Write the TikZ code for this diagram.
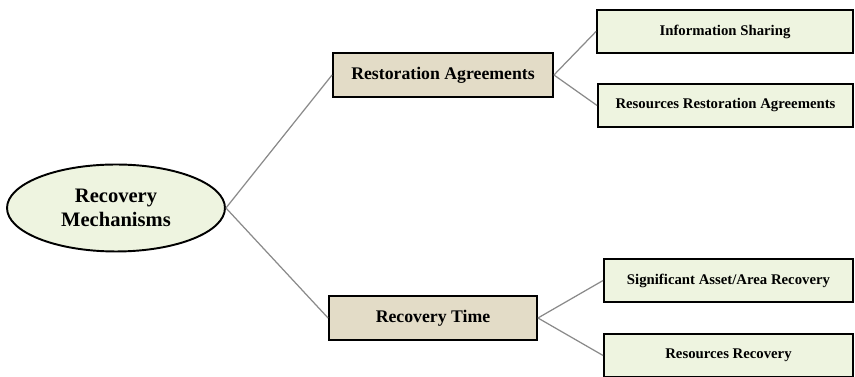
\documentclass[tikz,border=0pt]{standalone}
\usepackage{fontspec}
\setmainfont{Liberation Serif}
\usepackage{xcolor}
\usetikzlibrary{shapes.geometric, positioning}
\definecolor{leafgreen}{HTML}{EEF4E0}
\definecolor{midtan}{HTML}{E3DCC7}
\definecolor{linkgray}{HTML}{8A8A8A}
\tikzset{
    rootnode/.style={
        ellipse,
        draw=black,
        line width=1.1pt,
        minimum width=4.36cm,
        minimum height=1.74cm,
        fill=leafgreen,
        align=center,
        font=\fontsize{11.7}{13.5}\selectfont\bfseries
    },
    midbox/.style={
        rectangle,
        draw=black,
        line width=1.1pt,
        minimum height=0.88cm,
        fill=midtan,
        font=\fontsize{10.1}{12}\selectfont\bfseries
    },
    leafbox/.style={
        rectangle,
        draw=black,
        line width=1.1pt,
        minimum height=0.86cm,
        fill=leafgreen,
        font=\fontsize{8.4}{10}\selectfont\bfseries
    },
    link/.style={
        draw=linkgray,
        line width=0.7pt
    }
}
\begin{document}
\begin{tikzpicture}[x=0.02cm, y=-0.02cm]
\useasboundingbox (0,0) rectangle (855,377);

% Root
\node[rootnode] (recmech) at (116,208) {Recovery\\Mechanisms};

% Second level
\node[midbox, minimum width=4.4cm] (restagr) at (443,75) {Restoration Agreements};
\node[midbox, minimum width=4.16cm] (rectime) at (433,318) {Recovery Time};

% Leaves
\node[leafbox, minimum width=5.12cm] (infoshare) at (725,31.5) {Information Sharing};
\node[leafbox, minimum width=5.1cm] (resrestagr) at (725.5,105.5) {Resources Restoration Agreements};
\node[leafbox, minimum width=4.98cm] (sigasset) at (728.5,280.5) {Significant Asset/Area Recovery};
\node[leafbox, minimum width=4.98cm] (resrec) at (728.5,355.5) {Resources Recovery};

% Links
\draw[link] (recmech.east) -- (restagr.west);
\draw[link] (recmech.east) -- (rectime.west);
\draw[link] (restagr.east) -- (infoshare.west);
\draw[link] (restagr.east) -- (resrestagr.west);
\draw[link] (rectime.east) -- (sigasset.west);
\draw[link] (rectime.east) -- (resrec.west);

\end{tikzpicture}
\end{document}
